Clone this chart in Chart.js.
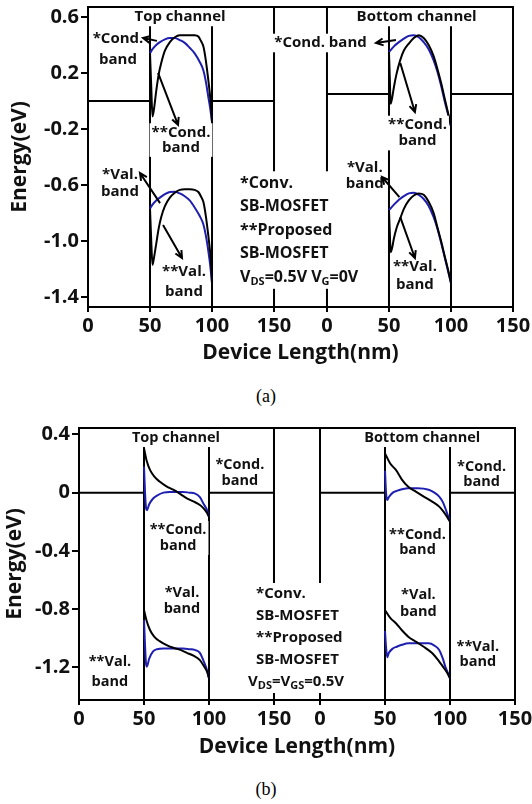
<!DOCTYPE html>
<html>
<head>
<meta charset="utf-8">
<script src="https://cdn.jsdelivr.net/npm/chart.js@4.4.1/dist/chart.umd.min.js"></script>
<style>
  body { margin: 0; background: #fff; width: 532px; height: 804px; position: relative; overflow: hidden; }
  canvas { position: absolute; left: 0; }
  #chartA { top: 0; }
  #chartB { top: 410px; }
  .cap { position: absolute; left: 0; width: 532px; text-align: center; font-family: "Liberation Serif", "Times New Roman", serif; font-size: 18px; }
</style>
</head>
<body>
<canvas id="chartA" width="532" height="366"></canvas>
<div class="cap" style="top:386px">(a)</div>
<canvas id="chartB" width="532" height="350"></canvas>
<div class="cap" style="top:779px">(b)</div>
<script>
// tick values of one channel axis (nm); the bottom channel repeats them after a gap
const channelTicks = [0, 50, 100, 150];

// ---- (a) VDS = 0.5 V, VG = 0 V ----
const aEnergyTicks = [0.6, 0.2, -0.2, -0.6, -1.0, -1.4];
const aMetalLevel = [0, 0.05]; // top channel, bottom channel

const aTopConvX = [50, 52, 55, 58, 62, 66, 70, 74, 78, 82, 86, 90, 93, 95, 97, 98.5, 100];
const aTopConvCond = [0.34, 0.37, 0.40, 0.42, 0.44, 0.45, 0.45, 0.435, 0.415, 0.38, 0.34, 0.28, 0.22, 0.14, 0.03, -0.05, -0.15];
const aTopConvVal = [-0.77, -0.74, -0.71, -0.69, -0.665, -0.65, -0.648, -0.66, -0.68, -0.71, -0.76, -0.82, -0.88, -0.96, -1.07, -1.17, -1.30];

const aTopPropX = [50, 51, 52, 53, 55, 57, 59, 62, 66, 70, 74, 78, 82, 86, 89, 91, 93, 95, 97, 98.5, 99.3, 100];
const aTopPropCond = [0.34, 0.1, -0.11, -0.07, 0.07, 0.19, 0.27, 0.36, 0.42, 0.455, 0.47, 0.47, 0.47, 0.47, 0.46, 0.43, 0.39, 0.29, 0.15, 0.03, -0.05, -0.15];
const aTopPropVal = [-0.77, -1.0, -1.17, -1.13, -1.02, -0.91, -0.83, -0.75, -0.69, -0.655, -0.635, -0.63, -0.63, -0.635, -0.65, -0.68, -0.72, -0.82, -0.96, -1.08, -1.17, -1.30];

const aBotConvX = [50, 54, 58, 62, 66, 70, 74, 78, 82, 86, 89, 92, 95, 97.5, 100];
const aBotConvCond = [0.35, 0.39, 0.42, 0.445, 0.465, 0.47, 0.455, 0.42, 0.37, 0.29, 0.21, 0.11, -0.005, -0.09, -0.18];
const aBotConvVal = [-0.78, -0.74, -0.705, -0.68, -0.66, -0.655, -0.67, -0.70, -0.75, -0.83, -0.91, -1.01, -1.12, -1.21, -1.30];

const aBotPropX = [50, 50.7, 51.3, 52.5, 54, 56, 59, 62, 66, 70, 74, 78, 82, 86, 89, 92, 95, 97.5, 100];
const aBotPropCond = [0.35, 0.15, -0.02, 0.02, 0.1, 0.19, 0.29, 0.36, 0.41, 0.45, 0.47, 0.45, 0.40, 0.32, 0.23, 0.13, 0.015, -0.08, -0.18];
const aBotPropVal = [-0.78, -0.95, -1.08, -1.05, -0.98, -0.91, -0.84, -0.77, -0.71, -0.675, -0.66, -0.67, -0.72, -0.80, -0.90, -1.00, -1.11, -1.20, -1.30];

// ---- (b) VDS = VGS = 0.5 V ----
const bEnergyTicks = [0.4, 0, -0.4, -0.8, -1.2];
const bMetalLevel = [0, 0];

const bTopConvX = [50, 50.8, 51.5, 52.2, 54, 57, 60, 65, 70, 75, 80, 85, 89, 93, 96, 98.5, 100];
const bTopConvCond = [0.18, 0.0, -0.1, -0.12, -0.08, -0.04, -0.02, 0.0, 0.005, 0.005, 0.005, 0.0, -0.005, -0.03, -0.08, -0.12, -0.165];
const bTopConvVal = [-0.875, -1.05, -1.17, -1.195, -1.14, -1.09, -1.075, -1.07, -1.07, -1.07, -1.07, -1.075, -1.08, -1.10, -1.16, -1.22, -1.275];

const bTopPropX = [50, 52, 54.6, 58, 62, 67, 72.5, 78, 83, 88, 93, 96, 98.5, 100];
const bTopPropCond = [0.305, 0.22, 0.156, 0.11, 0.076, 0.045, 0.02, -0.01, -0.04, -0.06, -0.085, -0.11, -0.14, -0.165];
const bTopPropVal = [-0.806, -0.88, -0.943, -0.99, -1.02, -1.045, -1.065, -1.08, -1.10, -1.12, -1.15, -1.19, -1.23, -1.275];

const bBotConvX = [50, 50.8, 51.7, 53, 56, 59, 63, 68, 75, 83.6, 88, 91.7, 94.5, 96.4, 98.5, 100];
const bBotConvCond = [0.15, 0.0, -0.05, -0.03, 0.0, 0.012, 0.023, 0.03, 0.03, 0.02, 0.0, -0.027, -0.065, -0.107, -0.16, -0.2];
const bBotConvVal = [-0.95, -1.06, -1.13, -1.1, -1.07, -1.058, -1.045, -1.035, -1.035, -1.035, -1.05, -1.08, -1.14, -1.195, -1.24, -1.275];

const bBotPropX = [50, 54, 58.4, 63, 67.9, 74, 79.8, 86, 91.7, 95, 98, 100];
const bBotPropCond = [0.27, 0.2, 0.156, 0.09, 0.04, 0.005, -0.027, -0.06, -0.096, -0.13, -0.17, -0.2];
const bBotPropVal = [-0.806, -0.86, -0.897, -0.945, -0.989, -1.025, -1.058, -1.1, -1.16, -1.2, -1.24, -1.275];

const BLUE = '#1e1eb0';
const BLACK = '#000';
const FAMILY = '"Open Sans", sans-serif';

// ch 0 = top channel, ch 1 = bottom channel (x in that channel's nm)
const panelA = {
  yMin: -1.471, yMax: 0.671, yTicks: aEnergyTicks, gap: 42.7, metal: aMetalLevel,
  pad: { left: 7, right: 19, top: 7 }, yWidth: 81, xHeight: 59,
  labelSize: 15, noteSize: 16,
  curves: [
    [0, aTopConvX, aTopConvCond, BLUE], [0, aTopConvX, aTopConvVal, BLUE],
    [1, aBotConvX, aBotConvCond, BLUE], [1, aBotConvX, aBotConvVal, BLUE],
    [0, aTopPropX, aTopPropCond, BLACK], [0, aTopPropX, aTopPropVal, BLACK],
    [1, aBotPropX, aBotPropCond, BLACK], [1, aBotPropX, aBotPropVal, BLACK]
  ],
  labels: [
    { ch: 0, x: 74.2, y: 0.60, lines: ['Top channel'] },
    { ch: 0, x: 24.2, y: 0.368, lines: ['*Cond.', 'band'], gap: 21 },
    { ch: 0, x: 75, y: -0.279, lines: ['**Cond.', 'band'], gap: 15 },
    { ch: 0, x: 25.8, y: -0.589, lines: ['*Val.', 'band'], gap: 17 },
    { ch: 0, x: 77.4, y: -1.293, lines: ['**Val.', 'band'], gap: 20 },
    { ch: 1, x: 72.3, y: 0.60, lines: ['Bottom channel'] },
    { ch: 0, x: 187.5, y: 0.414, lines: ['*Cond. band'] },
    { ch: 1, x: 73, y: -0.229, lines: ['**Cond.', 'band'], gap: 16 },
    { ch: 1, x: 30.5, y: -0.536, lines: ['*Val.', 'band'], gap: 16 },
    { ch: 1, x: 70.9, y: -1.25, lines: ['**Val.', 'band'], gap: 18 }
  ],
  arrows: [
    { ch: 0, from: [55.6, 0.429], to: [44.4, 0.45] },
    { ch: 0, from: [56.5, 0.2], to: [72.6, -0.171] },
    { ch: 0, from: [58.1, -0.729], to: [41.9, -0.514] },
    { ch: 0, from: [60.5, -0.886], to: [75.8, -1.121] },
    { ch: 1, from: [55.6, 0.436], to: [39.5, 0.414] },
    { ch: 1, from: [59.1, 0.271], to: [70.9, -0.079] },
    { ch: 1, from: [58.4, -0.686], to: [44.4, -0.543] },
    { ch: 1, from: [59.1, -0.829], to: [70.9, -1.121] }
  ],
  note: {
    x: [122.6, 122.6, 122.6, 122.6, 122.6], y: -0.586, gap: 23.5,
    lines: ['*Conv.', 'SB-MOSFET', '**Proposed', 'SB-MOSFET', 'V_{DS}=0.5V V_{G}=0V']
  }
};

const panelB = {
  yMin: -1.424, yMax: 0.444, yTicks: bEnergyTicks, gap: 35.4, metal: bMetalLevel,
  pad: { left: 2, right: 17, top: 18 }, yWidth: 77, xHeight: 60,
  labelSize: 14.5, noteSize: 15,
  curves: [
    [0, bTopConvX, bTopConvCond, BLUE], [0, bTopConvX, bTopConvVal, BLUE],
    [1, bBotConvX, bBotConvCond, BLUE], [1, bBotConvX, bBotConvVal, BLUE],
    [0, bTopPropX, bTopPropCond, BLACK], [0, bTopPropX, bTopPropVal, BLACK],
    [1, bBotPropX, bBotPropCond, BLACK], [1, bBotPropX, bBotPropVal, BLACK]
  ],
  labels: [
    { ch: 0, x: 74.6, y: 0.375, lines: ['Top channel'] },
    { ch: 0, x: 123.8, y: 0.135, lines: ['*Cond.', 'band'], gap: 16 },
    { ch: 0, x: 76.2, y: -0.311, lines: ['**Cond.', 'band'], gap: 16 },
    { ch: 0, x: 79.2, y: -0.744, lines: ['*Val.', 'band'], gap: 16 },
    { ch: 0, x: 23.8, y: -1.231, lines: ['**Val.', 'band'], gap: 20 },
    { ch: 1, x: 78.6, y: 0.375, lines: ['Bottom channel'] },
    { ch: 1, x: 124.3, y: 0.125, lines: ['*Cond.', 'band'], gap: 15 },
    { ch: 1, x: 75, y: -0.342, lines: ['**Cond.', 'band'], gap: 15 },
    { ch: 1, x: 75.7, y: -0.759, lines: ['*Val.', 'band'], gap: 17 },
    { ch: 1, x: 121.4, y: -1.111, lines: ['**Val.', 'band'], gap: 15 }
  ],
  arrows: [],
  note: {
    x: [136.2, 136.2, 136.2, 136.2, 130], y: -0.696, gap: 22,
    lines: ['*Conv.', 'SB-MOSFET', '**Proposed', 'SB-MOSFET', 'V_{DS}=V_{GS}=0.5V']
  }
};

// split "V_{DS}=..." into normal and subscript runs
function richParts(s) {
  return s.split(/(_\{[^}]*\})/).filter(Boolean)
    .map(t => t.startsWith('_{') ? { t: t.slice(2, -1), sub: true } : { t, sub: false });
}

// centred block of lines on a white patch; (cx, cy) is the middle of the block
function drawLabel(ctx, lines, cx, cy, gap, size) {
  ctx.font = `bold ${size}px ${FAMILY}`;
  const w = Math.max(...lines.map(l => ctx.measureText(l).width));
  const y0 = cy - (lines.length - 1) * gap / 2;
  const top = y0 - size * 0.62, bottom = y0 + (lines.length - 1) * gap + size * 0.62;
  ctx.fillStyle = '#fff';
  ctx.fillRect(cx - w / 2 - 2, top, w + 4, bottom - top);
  ctx.fillStyle = '#111';
  ctx.textAlign = 'center';
  ctx.textBaseline = 'middle';
  lines.forEach((l, i) => ctx.fillText(l, cx, y0 + i * gap));
}

function drawNote(ctx, note, xs, y0, size) {
  const main = `bold ${size}px ${FAMILY}`;
  const sub = `bold ${Math.round(size * 0.7)}px ${FAMILY}`;
  const rows = note.lines.map(richParts);
  let right = 0;
  rows.forEach((parts, i) => {
    let w = 0;
    parts.forEach(p => { ctx.font = p.sub ? sub : main; p.w = ctx.measureText(p.t).width; w += p.w; });
    right = Math.max(right, xs[i] + w);
  });
  const left = Math.min(...xs);
  const top = y0 - note.gap / 2, bottom = y0 + (rows.length - 0.5) * note.gap;
  ctx.fillStyle = '#fff';
  ctx.fillRect(left - 4, top, right - left + 8, bottom - top);
  ctx.fillStyle = '#111';
  ctx.textAlign = 'left';
  ctx.textBaseline = 'middle';
  rows.forEach((parts, i) => {
    let x = xs[i];
    const y = y0 + i * note.gap;
    parts.forEach(p => {
      ctx.font = p.sub ? sub : main;
      ctx.fillText(p.t, x, p.sub ? y + size * 0.28 : y);
      x += p.w;
    });
  });
}

function drawArrow(ctx, x1, y1, x2, y2) {
  const a = Math.atan2(y2 - y1, x2 - x1), h = 8, s = 0.45;
  ctx.beginPath();
  ctx.moveTo(x1, y1);
  ctx.lineTo(x2, y2);
  ctx.moveTo(x2 - h * Math.cos(a - s), y2 - h * Math.sin(a - s));
  ctx.lineTo(x2, y2);
  ctx.lineTo(x2 - h * Math.cos(a + s), y2 - h * Math.sin(a + s));
  ctx.stroke();
}

function buildChart(id, p) {
  const off = 150 + p.gap;
  const xOf = (ch, v) => v + (ch ? off : 0);
  const tickVals = [...channelTicks, ...channelTicks.map(v => v + off)];

  const line = (pts, color, order, smooth) => ({
    data: pts, showLine: true, borderColor: color, borderWidth: 2, pointRadius: 0,
    order, tension: 0, cubicInterpolationMode: smooth ? 'monotone' : 'default'
  });

  const datasets = [];
  // channel walls and the edges of the gap between the two plots
  [[0, 50], [0, 100], [0, 150], [1, 0], [1, 50], [1, 100]].forEach(([ch, v]) => {
    datasets.push(line([{ x: xOf(ch, v), y: p.yMin }, { x: xOf(ch, v), y: p.yMax }], BLACK, 3));
  });
  // source / drain metal level
  p.metal.forEach((lvl, ch) => {
    datasets.push(line([{ x: xOf(ch, 0), y: lvl }, { x: xOf(ch, 50), y: lvl }], BLACK, 3));
    datasets.push(line([{ x: xOf(ch, 100), y: lvl }, { x: xOf(ch, 150), y: lvl }], BLACK, 3));
  });
  // band edges
  p.curves.forEach(([ch, xs, ys, color]) => {
    datasets.push(line(xs.map((v, i) => ({ x: xOf(ch, v), y: ys[i] })), color, color === BLUE ? 2 : 1, true));
  });

  const annotate = {
    id: 'annotate',
    afterDatasetsDraw(chart) {
      const { ctx, chartArea: area, scales: { x, y } } = chart;
      const px = (ch, v) => x.getPixelForValue(xOf(ch, v));
      ctx.save();
      drawNote(ctx, p.note, p.note.x.map(v => px(0, v)), y.getPixelForValue(p.note.y), p.noteSize);
      p.labels.forEach(l => drawLabel(ctx, l.lines, px(l.ch, l.x), y.getPixelForValue(l.y), l.gap || 0, p.labelSize));
      ctx.strokeStyle = '#000';
      ctx.lineWidth = 2;
      p.arrows.forEach(a => drawArrow(ctx, px(a.ch, a.from[0]), y.getPixelForValue(a.from[1]),
        px(a.ch, a.to[0]), y.getPixelForValue(a.to[1])));
      ctx.strokeRect(area.left, area.top, area.right - area.left, area.bottom - area.top);
      ctx.restore();
    }
  };

  const axisFont = { family: FAMILY, weight: 'bold', size: 20 };
  const titleFont = { family: FAMILY, weight: 'bold', size: 21 };

  return new Chart(document.getElementById(id), {
    type: 'scatter',
    data: { datasets },
    plugins: [annotate],
    options: {
      responsive: false,
      animation: false,
      events: [],
      layout: { padding: { left: p.pad.left, right: p.pad.right, top: p.pad.top, bottom: 0 } },
      plugins: { legend: { display: false }, tooltip: { enabled: false } },
      scales: {
        x: {
          type: 'linear', min: 0, max: 300 + p.gap,
          afterBuildTicks: s => { s.ticks = tickVals.map(v => ({ value: v })); },
          afterFit: s => { s.height = p.xHeight; s.paddingLeft = 0; s.paddingRight = 0; },
          ticks: {
            callback: v => (v >= off - 0.01 ? Math.round(v - off) : v),
            font: axisFont, color: '#111', padding: 2, maxRotation: 0, autoSkip: false
          },
          grid: { drawOnChartArea: false, drawTicks: true, tickLength: 5, color: '#000', lineWidth: 2 },
          border: { display: true, color: '#000', width: 2 },
          title: { display: true, text: 'Device Length(nm)', font: titleFont, color: '#111', padding: 0 }
        },
        y: {
          min: p.yMin, max: p.yMax,
          afterBuildTicks: s => { s.ticks = p.yTicks.map(v => ({ value: v })); },
          afterFit: s => { s.width = p.yWidth; s.paddingTop = 0; s.paddingBottom = 0; },
          ticks: {
            callback: v => (v === 0 ? '0' : v.toFixed(1)),
            font: axisFont, color: '#111', padding: 2
          },
          grid: { drawOnChartArea: false, drawTicks: true, tickLength: 7, color: '#000', lineWidth: 2 },
          border: { display: true, color: '#000', width: 2 },
          title: { display: true, text: 'Energy(eV)', font: titleFont, color: '#111', padding: 0 }
        }
      }
    }
  });
}

buildChart('chartA', panelA);
buildChart('chartB', panelB);
</script>
</body>
</html>
